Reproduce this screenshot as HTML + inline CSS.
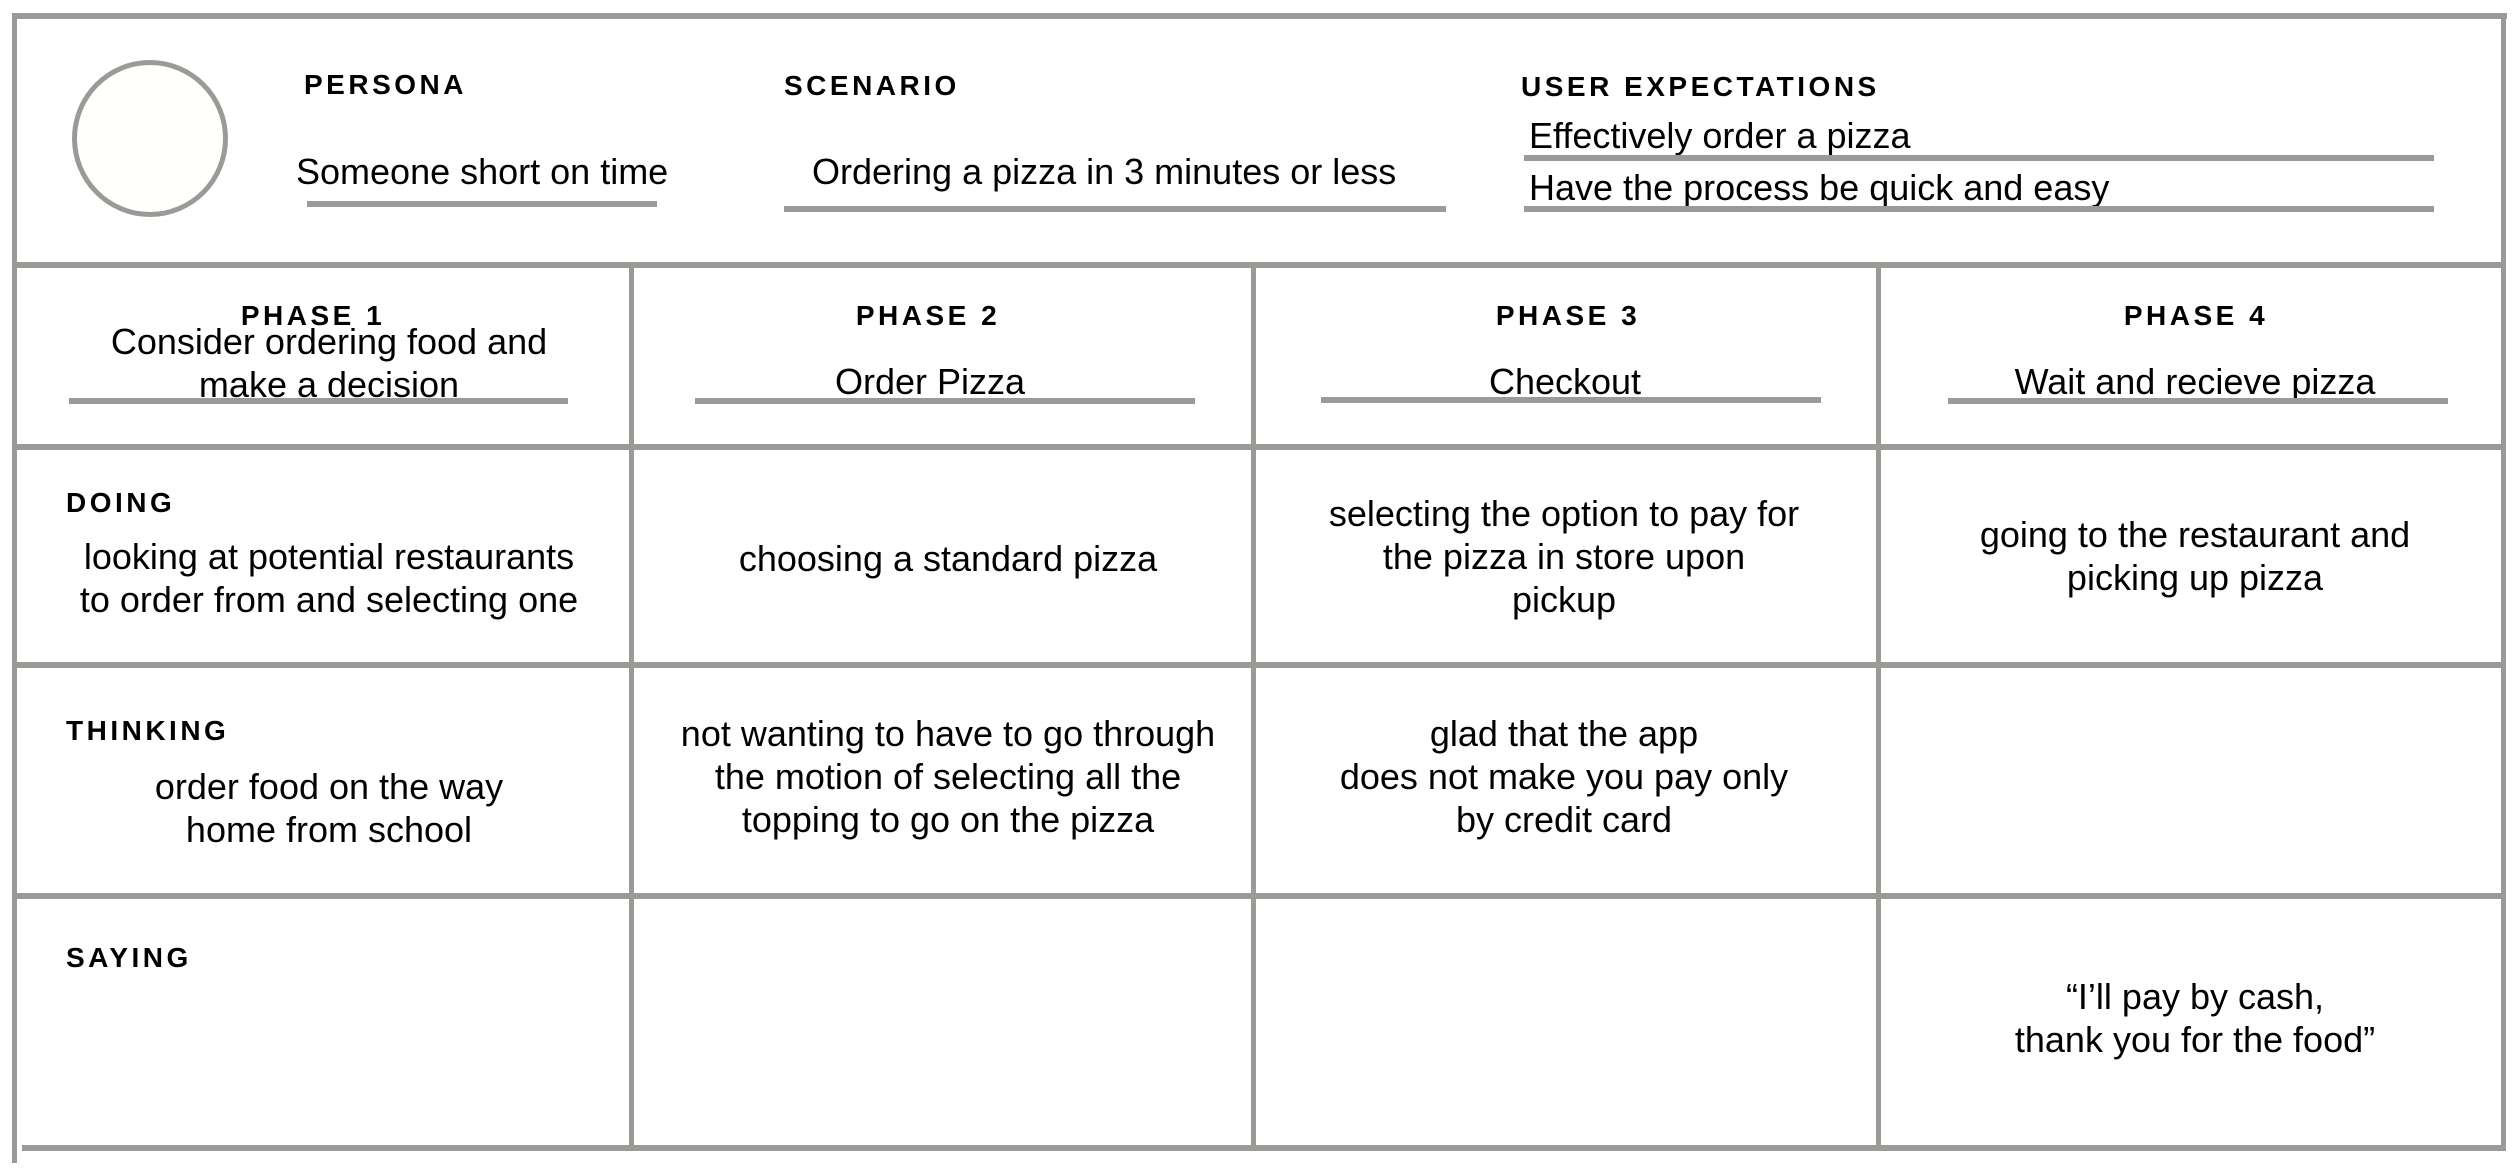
<!DOCTYPE html>
<html><head><meta charset="utf-8"><style>
html,body{margin:0;padding:0;background:#fff;}
body{width:2518px;height:1176px;position:relative;overflow:hidden;font-family:"Liberation Sans",Arial,sans-serif;color:#000;}
.l{position:absolute;background:#9a9a97;}
.h{position:absolute;font-weight:bold;font-size:28px;letter-spacing:3.5px;line-height:30px;white-space:nowrap;}
.t{position:absolute;font-size:36px;line-height:43px;white-space:nowrap;text-align:center;transform:translateX(-50%);}
.tl{position:absolute;font-size:36px;line-height:40px;white-space:nowrap;}
.c{transform:translateX(-50%);}
</style></head><body>
<div class="l" style="left:12px;top:13px;width:2495px;height:6px"></div>
<div class="l" style="left:12px;top:13px;width:5px;height:1150px"></div>
<div class="l" style="left:2501px;top:13px;width:5px;height:1138px"></div>
<div class="l" style="left:14px;top:262px;width:2492px;height:6px"></div>
<div class="l" style="left:14px;top:444px;width:2492px;height:6px"></div>
<div class="l" style="left:14px;top:662px;width:2492px;height:6px"></div>
<div class="l" style="left:14px;top:893px;width:2492px;height:6px"></div>
<div class="l" style="left:22px;top:1145px;width:2484px;height:6px"></div>
<div class="l" style="left:629px;top:265px;width:5px;height:884px"></div>
<div class="l" style="left:1251px;top:265px;width:5px;height:884px"></div>
<div class="l" style="left:1876px;top:265px;width:5px;height:884px"></div>

<div style="position:absolute;left:72px;top:60px;width:146px;height:147px;border:5px solid #9a9a97;border-radius:50%;background:#fffffd"></div>
<div class="h" style="left:304px;top:70px">PERSONA</div>
<div class="h" style="left:784px;top:71px">SCENARIO</div>
<div class="h" style="left:1521px;top:72px">USER EXPECTATIONS</div>
<div class="tl" style="left:296px;top:152px">Someone short on time</div>
<div class="l" style="left:307px;top:201px;width:350px;height:6px"></div>
<div class="tl" style="left:812px;top:152px">Ordering a pizza in 3 minutes or less</div>
<div class="l" style="left:784px;top:206px;width:662px;height:6px"></div>
<div class="tl" style="left:1529px;top:116px">Effectively order a pizza</div>
<div class="l" style="left:1524px;top:155px;width:910px;height:6px"></div>
<div class="tl" style="left:1529px;top:168px">Have the process be quick and easy</div>
<div class="l" style="left:1524px;top:206px;width:910px;height:6px"></div>

<div class="h c" style="left:313px;top:301px">PHASE 1</div>
<div class="h c" style="left:928px;top:301px">PHASE 2</div>
<div class="h c" style="left:1568px;top:301px">PHASE 3</div>
<div class="h c" style="left:2196px;top:301px">PHASE 4</div>
<div class="t" style="left:329px;top:320px;line-height:43px">Consider ordering food and<br>make a decision</div>
<div class="l" style="left:69px;top:398px;width:499px;height:6px"></div>
<div class="t" style="left:930px;top:360px">Order Pizza</div>
<div class="l" style="left:695px;top:398px;width:500px;height:6px"></div>
<div class="t" style="left:1565px;top:360px">Checkout</div>
<div class="l" style="left:1321px;top:397px;width:500px;height:6px"></div>
<div class="t" style="left:2195px;top:360px">Wait and recieve pizza</div>
<div class="l" style="left:1948px;top:398px;width:500px;height:6px"></div>

<div class="h" style="left:66px;top:488px">DOING</div>
<div class="h" style="left:66px;top:716px">THINKING</div>
<div class="h" style="left:66px;top:943px">SAYING</div>

<div class="t" style="left:329px;top:535px">looking at potential restaurants<br>to order from and selecting one</div>
<div class="t" style="left:948px;top:537px">choosing a standard pizza</div>
<div class="t" style="left:1564px;top:492px">selecting the option to pay for<br>the pizza in store upon<br>pickup</div>
<div class="t" style="left:2195px;top:513px">going to the restaurant and<br>picking up pizza</div>

<div class="t" style="left:329px;top:765px">order food on the way<br>home from school</div>
<div class="t" style="left:948px;top:712px">not wanting to have to go through<br>the motion of selecting all the<br>topping to go on the pizza</div>
<div class="t" style="left:1564px;top:712px">glad that the app<br>does not make you pay only<br>by credit card</div>

<div class="t" style="left:2195px;top:975px">“I’ll pay by cash,<br>thank you for the food”</div>
</body></html>
